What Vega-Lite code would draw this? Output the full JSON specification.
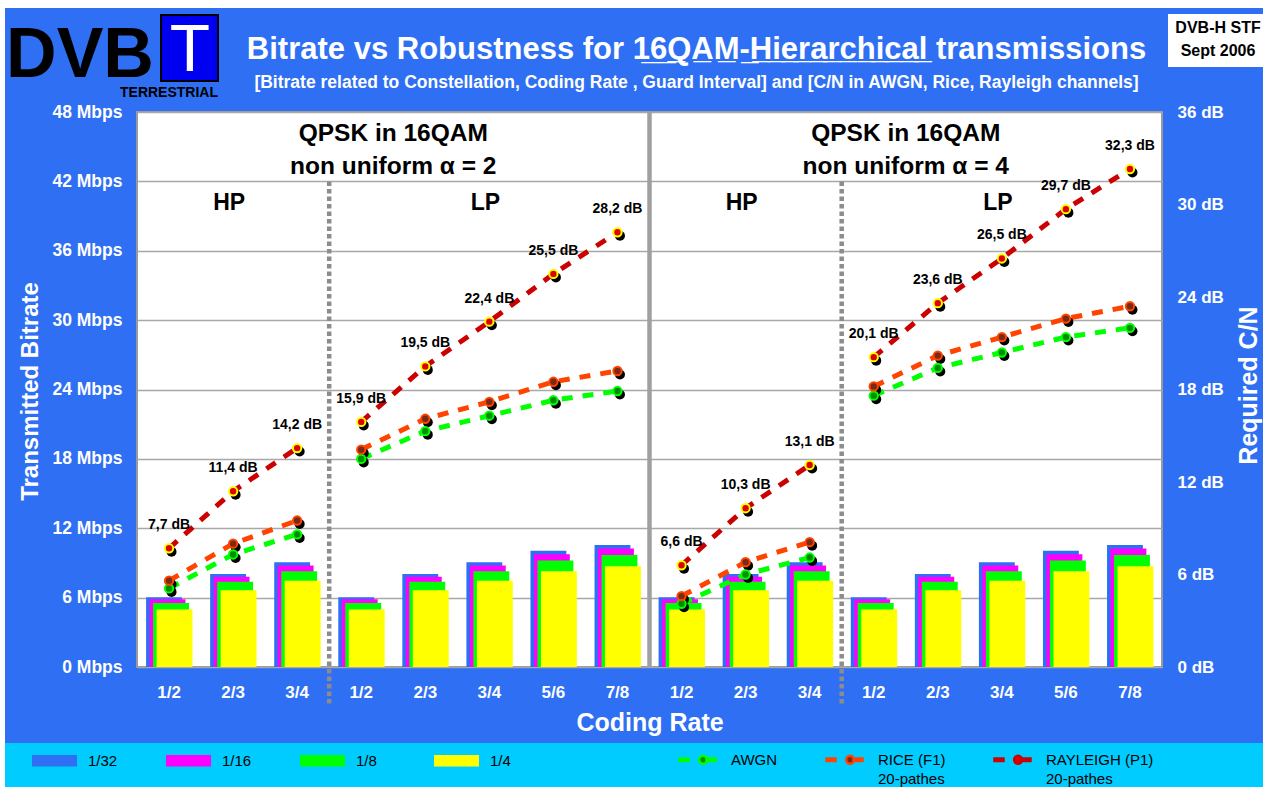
{
  "$schema": "https://vega.github.io/schema/vega-lite/v6.json",
  "width": 1025,
  "height": 555,
  "autosize": {"type": "none"},
  "padding": {"left": 137, "top": 112, "right": 101, "bottom": 120},
  "background": "#2E6FF4",
  "config": {
    "font": "Liberation Sans",
    "view": {"fill": "white", "stroke": "#9A9A9A", "strokeWidth": 2},
    "axis": {"ticks": false, "domain": false, "labelColor": "white", "labelFontWeight": "bold", "titleColor": "white", "titleFontWeight": "bold", "labelOverlap": false, "labelBound": false}
  },
  "title": {
    "text": "Bitrate vs Robustness for 1\u03326\u0332Q\u0332A\u0332M\u0332-\u0332H\u0332i\u0332e\u0332r\u0332a\u0332r\u0332c\u0332h\u0332i\u0332c\u0332a\u0332l\u0332 transmissions",
    "subtitle": "[Bitrate related to Constellation, Coding Rate , Guard Interval]  and [C/N in AWGN, Rice, Rayleigh channels]",
    "color": "white", "fontSize": 31, "fontWeight": "bold",
    "subtitleColor": "white", "subtitleFontSize": 17.5, "subtitleFontWeight": "bold",
    "anchor": "middle", "dx": 47, "dy": 112, "offset": 20, "subtitlePadding": 8
  },
  "datasets": {
    "bars": [
      {"c":"a2-HP-1/2","gi":"1/32","v":6.03},{"c":"a2-HP-1/2","gi":"1/16","v":5.85},{"c":"a2-HP-1/2","gi":"1/8","v":5.53},{"c":"a2-HP-1/2","gi":"1/4","v":4.98},
      {"c":"a2-HP-2/3","gi":"1/32","v":8.04},{"c":"a2-HP-2/3","gi":"1/16","v":7.81},{"c":"a2-HP-2/3","gi":"1/8","v":7.37},{"c":"a2-HP-2/3","gi":"1/4","v":6.64},
      {"c":"a2-HP-3/4","gi":"1/32","v":9.05},{"c":"a2-HP-3/4","gi":"1/16","v":8.78},{"c":"a2-HP-3/4","gi":"1/8","v":8.29},{"c":"a2-HP-3/4","gi":"1/4","v":7.46},
      {"c":"a2-LP-1/2","gi":"1/32","v":6.03},{"c":"a2-LP-1/2","gi":"1/16","v":5.85},{"c":"a2-LP-1/2","gi":"1/8","v":5.53},{"c":"a2-LP-1/2","gi":"1/4","v":4.98},
      {"c":"a2-LP-2/3","gi":"1/32","v":8.04},{"c":"a2-LP-2/3","gi":"1/16","v":7.81},{"c":"a2-LP-2/3","gi":"1/8","v":7.37},{"c":"a2-LP-2/3","gi":"1/4","v":6.64},
      {"c":"a2-LP-3/4","gi":"1/32","v":9.05},{"c":"a2-LP-3/4","gi":"1/16","v":8.78},{"c":"a2-LP-3/4","gi":"1/8","v":8.29},{"c":"a2-LP-3/4","gi":"1/4","v":7.46},
      {"c":"a2-LP-5/6","gi":"1/32","v":10.05},{"c":"a2-LP-5/6","gi":"1/16","v":9.76},{"c":"a2-LP-5/6","gi":"1/8","v":9.22},{"c":"a2-LP-5/6","gi":"1/4","v":8.29},
      {"c":"a2-LP-7/8","gi":"1/32","v":10.56},{"c":"a2-LP-7/8","gi":"1/16","v":10.25},{"c":"a2-LP-7/8","gi":"1/8","v":9.68},{"c":"a2-LP-7/8","gi":"1/4","v":8.71},
      {"c":"a4-HP-1/2","gi":"1/32","v":6.03},{"c":"a4-HP-1/2","gi":"1/16","v":5.85},{"c":"a4-HP-1/2","gi":"1/8","v":5.53},{"c":"a4-HP-1/2","gi":"1/4","v":4.98},
      {"c":"a4-HP-2/3","gi":"1/32","v":8.04},{"c":"a4-HP-2/3","gi":"1/16","v":7.81},{"c":"a4-HP-2/3","gi":"1/8","v":7.37},{"c":"a4-HP-2/3","gi":"1/4","v":6.64},
      {"c":"a4-HP-3/4","gi":"1/32","v":9.05},{"c":"a4-HP-3/4","gi":"1/16","v":8.78},{"c":"a4-HP-3/4","gi":"1/8","v":8.29},{"c":"a4-HP-3/4","gi":"1/4","v":7.46},
      {"c":"a4-LP-1/2","gi":"1/32","v":6.03},{"c":"a4-LP-1/2","gi":"1/16","v":5.85},{"c":"a4-LP-1/2","gi":"1/8","v":5.53},{"c":"a4-LP-1/2","gi":"1/4","v":4.98},
      {"c":"a4-LP-2/3","gi":"1/32","v":8.04},{"c":"a4-LP-2/3","gi":"1/16","v":7.81},{"c":"a4-LP-2/3","gi":"1/8","v":7.37},{"c":"a4-LP-2/3","gi":"1/4","v":6.64},
      {"c":"a4-LP-3/4","gi":"1/32","v":9.05},{"c":"a4-LP-3/4","gi":"1/16","v":8.78},{"c":"a4-LP-3/4","gi":"1/8","v":8.29},{"c":"a4-LP-3/4","gi":"1/4","v":7.46},
      {"c":"a4-LP-5/6","gi":"1/32","v":10.05},{"c":"a4-LP-5/6","gi":"1/16","v":9.76},{"c":"a4-LP-5/6","gi":"1/8","v":9.22},{"c":"a4-LP-5/6","gi":"1/4","v":8.29},
      {"c":"a4-LP-7/8","gi":"1/32","v":10.56},{"c":"a4-LP-7/8","gi":"1/16","v":10.25},{"c":"a4-LP-7/8","gi":"1/8","v":9.68},{"c":"a4-LP-7/8","gi":"1/4","v":8.71}
    ],
    "cn": [
      {"c":"a2-HP-1/2","seg":"a2-HP","ch":"AWGN","db":5.1},{"c":"a2-HP-1/2","seg":"a2-HP","ch":"RICE (F1)","db":5.6},{"c":"a2-HP-1/2","seg":"a2-HP","ch":"RAYLEIGH (P1)","db":7.7,"lab":"7,7 dB"},
      {"c":"a2-HP-2/3","seg":"a2-HP","ch":"AWGN","db":7.3},{"c":"a2-HP-2/3","seg":"a2-HP","ch":"RICE (F1)","db":8.0},{"c":"a2-HP-2/3","seg":"a2-HP","ch":"RAYLEIGH (P1)","db":11.4,"lab":"11,4 dB"},
      {"c":"a2-HP-3/4","seg":"a2-HP","ch":"AWGN","db":8.6},{"c":"a2-HP-3/4","seg":"a2-HP","ch":"RICE (F1)","db":9.5},{"c":"a2-HP-3/4","seg":"a2-HP","ch":"RAYLEIGH (P1)","db":14.2,"lab":"14,2 dB"},
      {"c":"a2-LP-1/2","seg":"a2-LP","ch":"AWGN","db":13.5},{"c":"a2-LP-1/2","seg":"a2-LP","ch":"RICE (F1)","db":14.1},{"c":"a2-LP-1/2","seg":"a2-LP","ch":"RAYLEIGH (P1)","db":15.9,"lab":"15,9 dB"},
      {"c":"a2-LP-2/3","seg":"a2-LP","ch":"AWGN","db":15.3},{"c":"a2-LP-2/3","seg":"a2-LP","ch":"RICE (F1)","db":16.1},{"c":"a2-LP-2/3","seg":"a2-LP","ch":"RAYLEIGH (P1)","db":19.5,"lab":"19,5 dB"},
      {"c":"a2-LP-3/4","seg":"a2-LP","ch":"AWGN","db":16.3},{"c":"a2-LP-3/4","seg":"a2-LP","ch":"RICE (F1)","db":17.2},{"c":"a2-LP-3/4","seg":"a2-LP","ch":"RAYLEIGH (P1)","db":22.4,"lab":"22,4 dB"},
      {"c":"a2-LP-5/6","seg":"a2-LP","ch":"AWGN","db":17.3},{"c":"a2-LP-5/6","seg":"a2-LP","ch":"RICE (F1)","db":18.5},{"c":"a2-LP-5/6","seg":"a2-LP","ch":"RAYLEIGH (P1)","db":25.5,"lab":"25,5 dB"},
      {"c":"a2-LP-7/8","seg":"a2-LP","ch":"AWGN","db":17.9},{"c":"a2-LP-7/8","seg":"a2-LP","ch":"RICE (F1)","db":19.2},{"c":"a2-LP-7/8","seg":"a2-LP","ch":"RAYLEIGH (P1)","db":28.2,"lab":"28,2 dB"},
      {"c":"a4-HP-1/2","seg":"a4-HP","ch":"AWGN","db":4.1},{"c":"a4-HP-1/2","seg":"a4-HP","ch":"RICE (F1)","db":4.6},{"c":"a4-HP-1/2","seg":"a4-HP","ch":"RAYLEIGH (P1)","db":6.6,"lab":"6,6 dB"},
      {"c":"a4-HP-2/3","seg":"a4-HP","ch":"AWGN","db":6.0},{"c":"a4-HP-2/3","seg":"a4-HP","ch":"RICE (F1)","db":6.8},{"c":"a4-HP-2/3","seg":"a4-HP","ch":"RAYLEIGH (P1)","db":10.3,"lab":"10,3 dB"},
      {"c":"a4-HP-3/4","seg":"a4-HP","ch":"AWGN","db":7.1},{"c":"a4-HP-3/4","seg":"a4-HP","ch":"RICE (F1)","db":8.1},{"c":"a4-HP-3/4","seg":"a4-HP","ch":"RAYLEIGH (P1)","db":13.1,"lab":"13,1 dB"},
      {"c":"a4-LP-1/2","seg":"a4-LP","ch":"AWGN","db":17.6},{"c":"a4-LP-1/2","seg":"a4-LP","ch":"RICE (F1)","db":18.2},{"c":"a4-LP-1/2","seg":"a4-LP","ch":"RAYLEIGH (P1)","db":20.1,"lab":"20,1 dB"},
      {"c":"a4-LP-2/3","seg":"a4-LP","ch":"AWGN","db":19.4},{"c":"a4-LP-2/3","seg":"a4-LP","ch":"RICE (F1)","db":20.2},{"c":"a4-LP-2/3","seg":"a4-LP","ch":"RAYLEIGH (P1)","db":23.6,"lab":"23,6 dB"},
      {"c":"a4-LP-3/4","seg":"a4-LP","ch":"AWGN","db":20.4},{"c":"a4-LP-3/4","seg":"a4-LP","ch":"RICE (F1)","db":21.4},{"c":"a4-LP-3/4","seg":"a4-LP","ch":"RAYLEIGH (P1)","db":26.5,"lab":"26,5 dB"},
      {"c":"a4-LP-5/6","seg":"a4-LP","ch":"AWGN","db":21.4},{"c":"a4-LP-5/6","seg":"a4-LP","ch":"RICE (F1)","db":22.6},{"c":"a4-LP-5/6","seg":"a4-LP","ch":"RAYLEIGH (P1)","db":29.7,"lab":"29,7 dB"},
      {"c":"a4-LP-7/8","seg":"a4-LP","ch":"AWGN","db":22.0},{"c":"a4-LP-7/8","seg":"a4-LP","ch":"RICE (F1)","db":23.4},{"c":"a4-LP-7/8","seg":"a4-LP","ch":"RAYLEIGH (P1)","db":32.3,"lab":"32,3 dB"}
    ]
  },
  "layer": [
    {"data": {"values": [{}]}, "mark": {"type": "rect", "color": "white"}, "encoding": {"x": {"value": -137}, "x2": {"value": 1126}, "y": {"value": -112}, "y2": {"value": -104}}},
    {"data": {"values": [{}]}, "mark": {"type": "rect", "color": "white"}, "encoding": {"x": {"value": -137}, "x2": {"value": -132}, "y": {"value": -112}, "y2": {"value": 675}}},
    {"data": {"values": [{}]}, "mark": {"type": "rect", "color": "#00CCFF"}, "encoding": {"x": {"value": -132}, "x2": {"value": 1126}, "y": {"value": 631}, "y2": {"value": 675}}},
    {"data": {"values": [{}]}, "mark": {"type": "text", "fontWeight": "bold", "fontSize": 70, "color": "black", "align": "center", "baseline": "alphabetic"}, "encoding": {"x": {"value": -57}, "y": {"value": -35}, "text": {"value": "DVB"}}},
    {"data": {"values": [{}]}, "mark": {"type": "rect", "fill": "#0000F0", "stroke": "black", "strokeWidth": 2}, "encoding": {"x": {"value": 24}, "x2": {"value": 81}, "y": {"value": -97}, "y2": {"value": -31}}},
    {"data": {"values": [{}]}, "mark": {"type": "text", "fontSize": 66, "color": "white", "align": "center", "baseline": "alphabetic"}, "encoding": {"x": {"value": 53}, "y": {"value": -41}, "text": {"value": "T"}}},
    {"data": {"values": [{}]}, "mark": {"type": "text", "fontWeight": "bold", "fontSize": 14, "color": "black", "align": "center", "baseline": "alphabetic"}, "encoding": {"x": {"value": 32}, "y": {"value": -15}, "text": {"value": "TERRESTRIAL"}}},
    {"data": {"values": [{}]}, "mark": {"type": "rect", "color": "white"}, "encoding": {"x": {"value": 1031}, "x2": {"value": 1126}, "y": {"value": -98}, "y2": {"value": -45}}},
    {"data": {"values": [{}]}, "mark": {"type": "text", "fontWeight": "bold", "fontSize": 16, "color": "black", "align": "center", "baseline": "alphabetic", "lineHeight": 23}, "encoding": {"x": {"value": 1081}, "y": {"value": -79}, "text": {"value": ["DVB-H STF", "Sept 2006"]}}},
    {
      "layer": [
        {"data": {"values": [{"c": "a2-LP-1/2"}, {"c": "a4-LP-1/2"}]},
         "mark": {"type": "rule", "color": "#8C8C8C", "strokeWidth": 4.5, "strokeDash": [4.5, 3]},
         "encoding": {"x": {"field": "c", "type": "nominal", "bandPosition": 0}, "y": {"datum": 42, "type": "quantitative"}, "y2": {"datum": -3.3}}},
        {"data": {"values": [{"c": "a4-HP-1/2"}]},
         "mark": {"type": "rule", "color": "#A0A0A0", "strokeWidth": 4.5},
         "encoding": {"x": {"field": "c", "type": "nominal", "bandPosition": 0}, "y": {"datum": 48, "type": "quantitative"}, "y2": {"datum": 0}}},
        {
          "data": {"name": "bars"},
          "encoding": {
            "x": {"field": "c", "type": "nominal",
              "scale": {"domain": ["a2-HP-1/2","a2-HP-2/3","a2-HP-3/4","a2-LP-1/2","a2-LP-2/3","a2-LP-3/4","a2-LP-5/6","a2-LP-7/8","a4-HP-1/2","a4-HP-2/3","a4-HP-3/4","a4-LP-1/2","a4-LP-2/3","a4-LP-3/4","a4-LP-5/6","a4-LP-7/8"], "paddingInner": 0, "paddingOuter": 0},
              "axis": {"orient": "bottom", "bandPosition": 0.5, "labelExpr": "split(datum.value, '-')[2]", "labelFontSize": 17, "labelPadding": 25, "labelAngle": 0, "labelAlign": "center", "labelBaseline": "middle", "grid": false, "title": "Coding Rate", "titleFontSize": 25, "titlePadding": 10}},
            "y": {"field": "v", "type": "quantitative",
              "scale": {"domain": [0, 48], "nice": false},
              "axis": {"orient": "left", "values": [0,3,6,9,12,15,18,21,24,27,30,33,36,39,42,45,48],
                "labelExpr": "datum.value % 6 === 0 ? datum.value + ' Mbps' : ''", "labelFontSize": 17.5, "labelPadding": 15,
                "grid": true,
                "gridColor": {"condition": {"test": "datum.value % 6 === 0", "value": "#A8A8A8"}, "value": "#D2D2D2"},
                "gridDash": {"condition": {"test": "datum.value % 6 === 0", "value": []}, "value": [45, 16]},
                "gridWidth": {"condition": {"test": "datum.value % 6 === 0", "value": 1.5}, "value": 2},
                "title": "Transmitted Bitrate", "titleFontSize": 24, "titleX": -107, "titleY": 279, "titleAngle": 270, "titleBaseline": "middle", "titleAlign": "center"}},
            "fill": {"field": "gi", "type": "nominal",
              "scale": {"domain": ["1/32", "1/16", "1/8", "1/4"], "range": ["#2E6FF4", "#FF00FF", "#00FF00", "#FFFF00"]},
              "legend": {"orient": "none", "legendX": -105, "legendY": 626, "direction": "horizontal", "gridAlign": "all", "columnPadding": 48,
                "symbolType": "M-1,-0.26H1V0.26H-1Z", "symbolSize": 2025, "symbolStrokeWidth": 0, "symbolOpacity": 1,
                "labelFontSize": 15, "labelColor": "black", "labelOffset": 11, "title": null, "padding": 0}}
          },
          "layer": [
            {"transform": [{"filter": "datum.gi === '1/32'"}], "mark": {"type": "bar", "width": {"band": 0.56}, "xOffset": -5}},
            {"transform": [{"filter": "datum.gi === '1/16'"}], "mark": {"type": "bar", "width": {"band": 0.56}, "xOffset": -1.5}},
            {"transform": [{"filter": "datum.gi === '1/8'"}], "mark": {"type": "bar", "width": {"band": 0.56}, "xOffset": 2}},
            {"transform": [{"filter": "datum.gi === '1/4'"}], "mark": {"type": "bar", "width": {"band": 0.56}, "xOffset": 5.5}}
          ]
        },
        {"data": {"values": [{"c": "a2-LP-1/2", "t": ["QPSK in 16QAM", "non uniform α = 2"]}, {"c": "a4-LP-1/2", "t": ["QPSK in 16QAM", "non uniform α = 4"]}]},
         "mark": {"type": "text", "fontWeight": "bold", "fontSize": 24.5, "color": "black", "align": "center", "baseline": "top", "lineHeight": 33},
         "encoding": {"x": {"field": "c", "type": "nominal", "bandPosition": 1}, "y": {"datum": 47.17, "type": "quantitative"}, "text": {"field": "t"}}},
        {"data": {"values": [{"c": "a2-HP-2/3", "t": "HP"}, {"c": "a2-LP-3/4", "t": "LP"}, {"c": "a4-HP-2/3", "t": "HP"}, {"c": "a4-LP-3/4", "t": "LP"}]},
         "mark": {"type": "text", "fontWeight": "bold", "fontSize": 23, "color": "black", "align": "center", "baseline": "middle", "dx": -4},
         "encoding": {"x": {"field": "c", "type": "nominal"}, "y": {"datum": 40.13, "type": "quantitative"}, "text": {"field": "t"}}}
      ]
    },
    {
      "data": {"name": "cn"},
      "encoding": {
        "x": {"field": "c", "type": "nominal",
          "scale": {"domain": ["a2-HP-1/2","a2-HP-2/3","a2-HP-3/4","a2-LP-1/2","a2-LP-2/3","a2-LP-3/4","a2-LP-5/6","a2-LP-7/8","a4-HP-1/2","a4-HP-2/3","a4-HP-3/4","a4-LP-1/2","a4-LP-2/3","a4-LP-3/4","a4-LP-5/6","a4-LP-7/8"], "paddingInner": 0, "paddingOuter": 0}},
        "y": {"field": "db", "type": "quantitative",
          "scale": {"domain": [0, 36], "nice": false},
          "axis": {"orient": "right", "values": [0,6,12,18,24,30,36], "labelExpr": "datum.value + ' dB'", "labelFontSize": 17, "labelPadding": 15, "grid": false,
            "title": "Required C/N", "titleFontSize": 25, "titleX": 86, "titleY": 273, "titleAngle": 270, "titleBaseline": "middle", "titleAlign": "center"}}
      },
      "layer": [
        {"mark": {"type": "line", "strokeWidth": 5, "strokeDash": [11, 10]},
         "encoding": {
           "detail": {"field": "seg"},
           "stroke": {"field": "ch", "type": "nominal", "sort": ["AWGN", "RICE (F1)", "RAYLEIGH (P1)"],
             "scale": {"range": ["#00FF00", "#FF4400", "#CC0000"]},
             "legend": {"orient": "none", "legendX": 541, "legendY": 628, "direction": "horizontal", "gridAlign": "each", "columnPadding": 43,
               "symbolType": "M-1,-0.07H-0.5V0.07H-1Z M0.5,-0.07H1V0.07H0.5Z M0.09,0A0.22,0.22 0 1,0 0.53,0A0.22,0.22 0 1,0 0.09,0Z", "symbolSize": 1296,
               "symbolStrokeWidth": 2.5, "symbolDash": [], "symbolOpacity": 1,
               "labelFontSize": 15, "labelColor": "black", "labelOffset": 14, "labelBaseline": "top",
               "labelExpr": "datum.label === 'AWGN' ? ['AWGN', ' '] : [datum.label, '20-pathes']",
               "title": null, "padding": 0,
               "encode": {"symbols": {"update": {
                 "fill": {"signal": "datum.value === 'AWGN' ? '#008C00' : datum.value === 'RICE (F1)' ? '#7A2A14' : '#E00000'"},
                 "stroke": {"signal": "datum.value === 'AWGN' ? '#00FF00' : datum.value === 'RICE (F1)' ? '#FF4400' : '#CC0000'"},
                 "strokeWidth": {"value": 2.5}, "strokeDash": {"value": []}, "opacity": {"value": 1}}},
                 "labels": {"update": {"dy": {"value": -7}, "lineHeight": {"value": 19}}}}}}}},
        {"mark": {"type": "point", "shape": "circle", "filled": true, "color": "black", "opacity": 1, "size": 100, "xOffset": 2.5, "yOffset": 3.5}},
        {"transform": [{"filter": "datum.ch === 'AWGN'"}], "mark": {"type": "point", "shape": "circle", "filled": true, "fill": "#008C00", "stroke": "#00FF00", "strokeWidth": 2, "size": 70, "opacity": 1}},
        {"transform": [{"filter": "datum.ch === 'RICE (F1)'"}], "mark": {"type": "point", "shape": "circle", "filled": true, "fill": "#7A2A14", "stroke": "#FF4400", "strokeWidth": 2, "size": 70, "opacity": 1}},
        {"transform": [{"filter": "datum.ch === 'RAYLEIGH (P1)'"}], "mark": {"type": "point", "shape": "circle", "filled": true, "fill": "#E00000", "stroke": "#FFFF00", "strokeWidth": 2, "size": 70, "opacity": 1}},
        {"transform": [{"filter": "datum.ch === 'RAYLEIGH (P1)'"}],
         "mark": {"type": "text", "fontWeight": "bold", "fontSize": 14, "color": "black", "dy": -23, "align": "center", "baseline": "middle"},
         "encoding": {"text": {"field": "lab"}}}
      ]
    }
  ],
  "resolve": {"scale": {"y": "independent"}}
}
